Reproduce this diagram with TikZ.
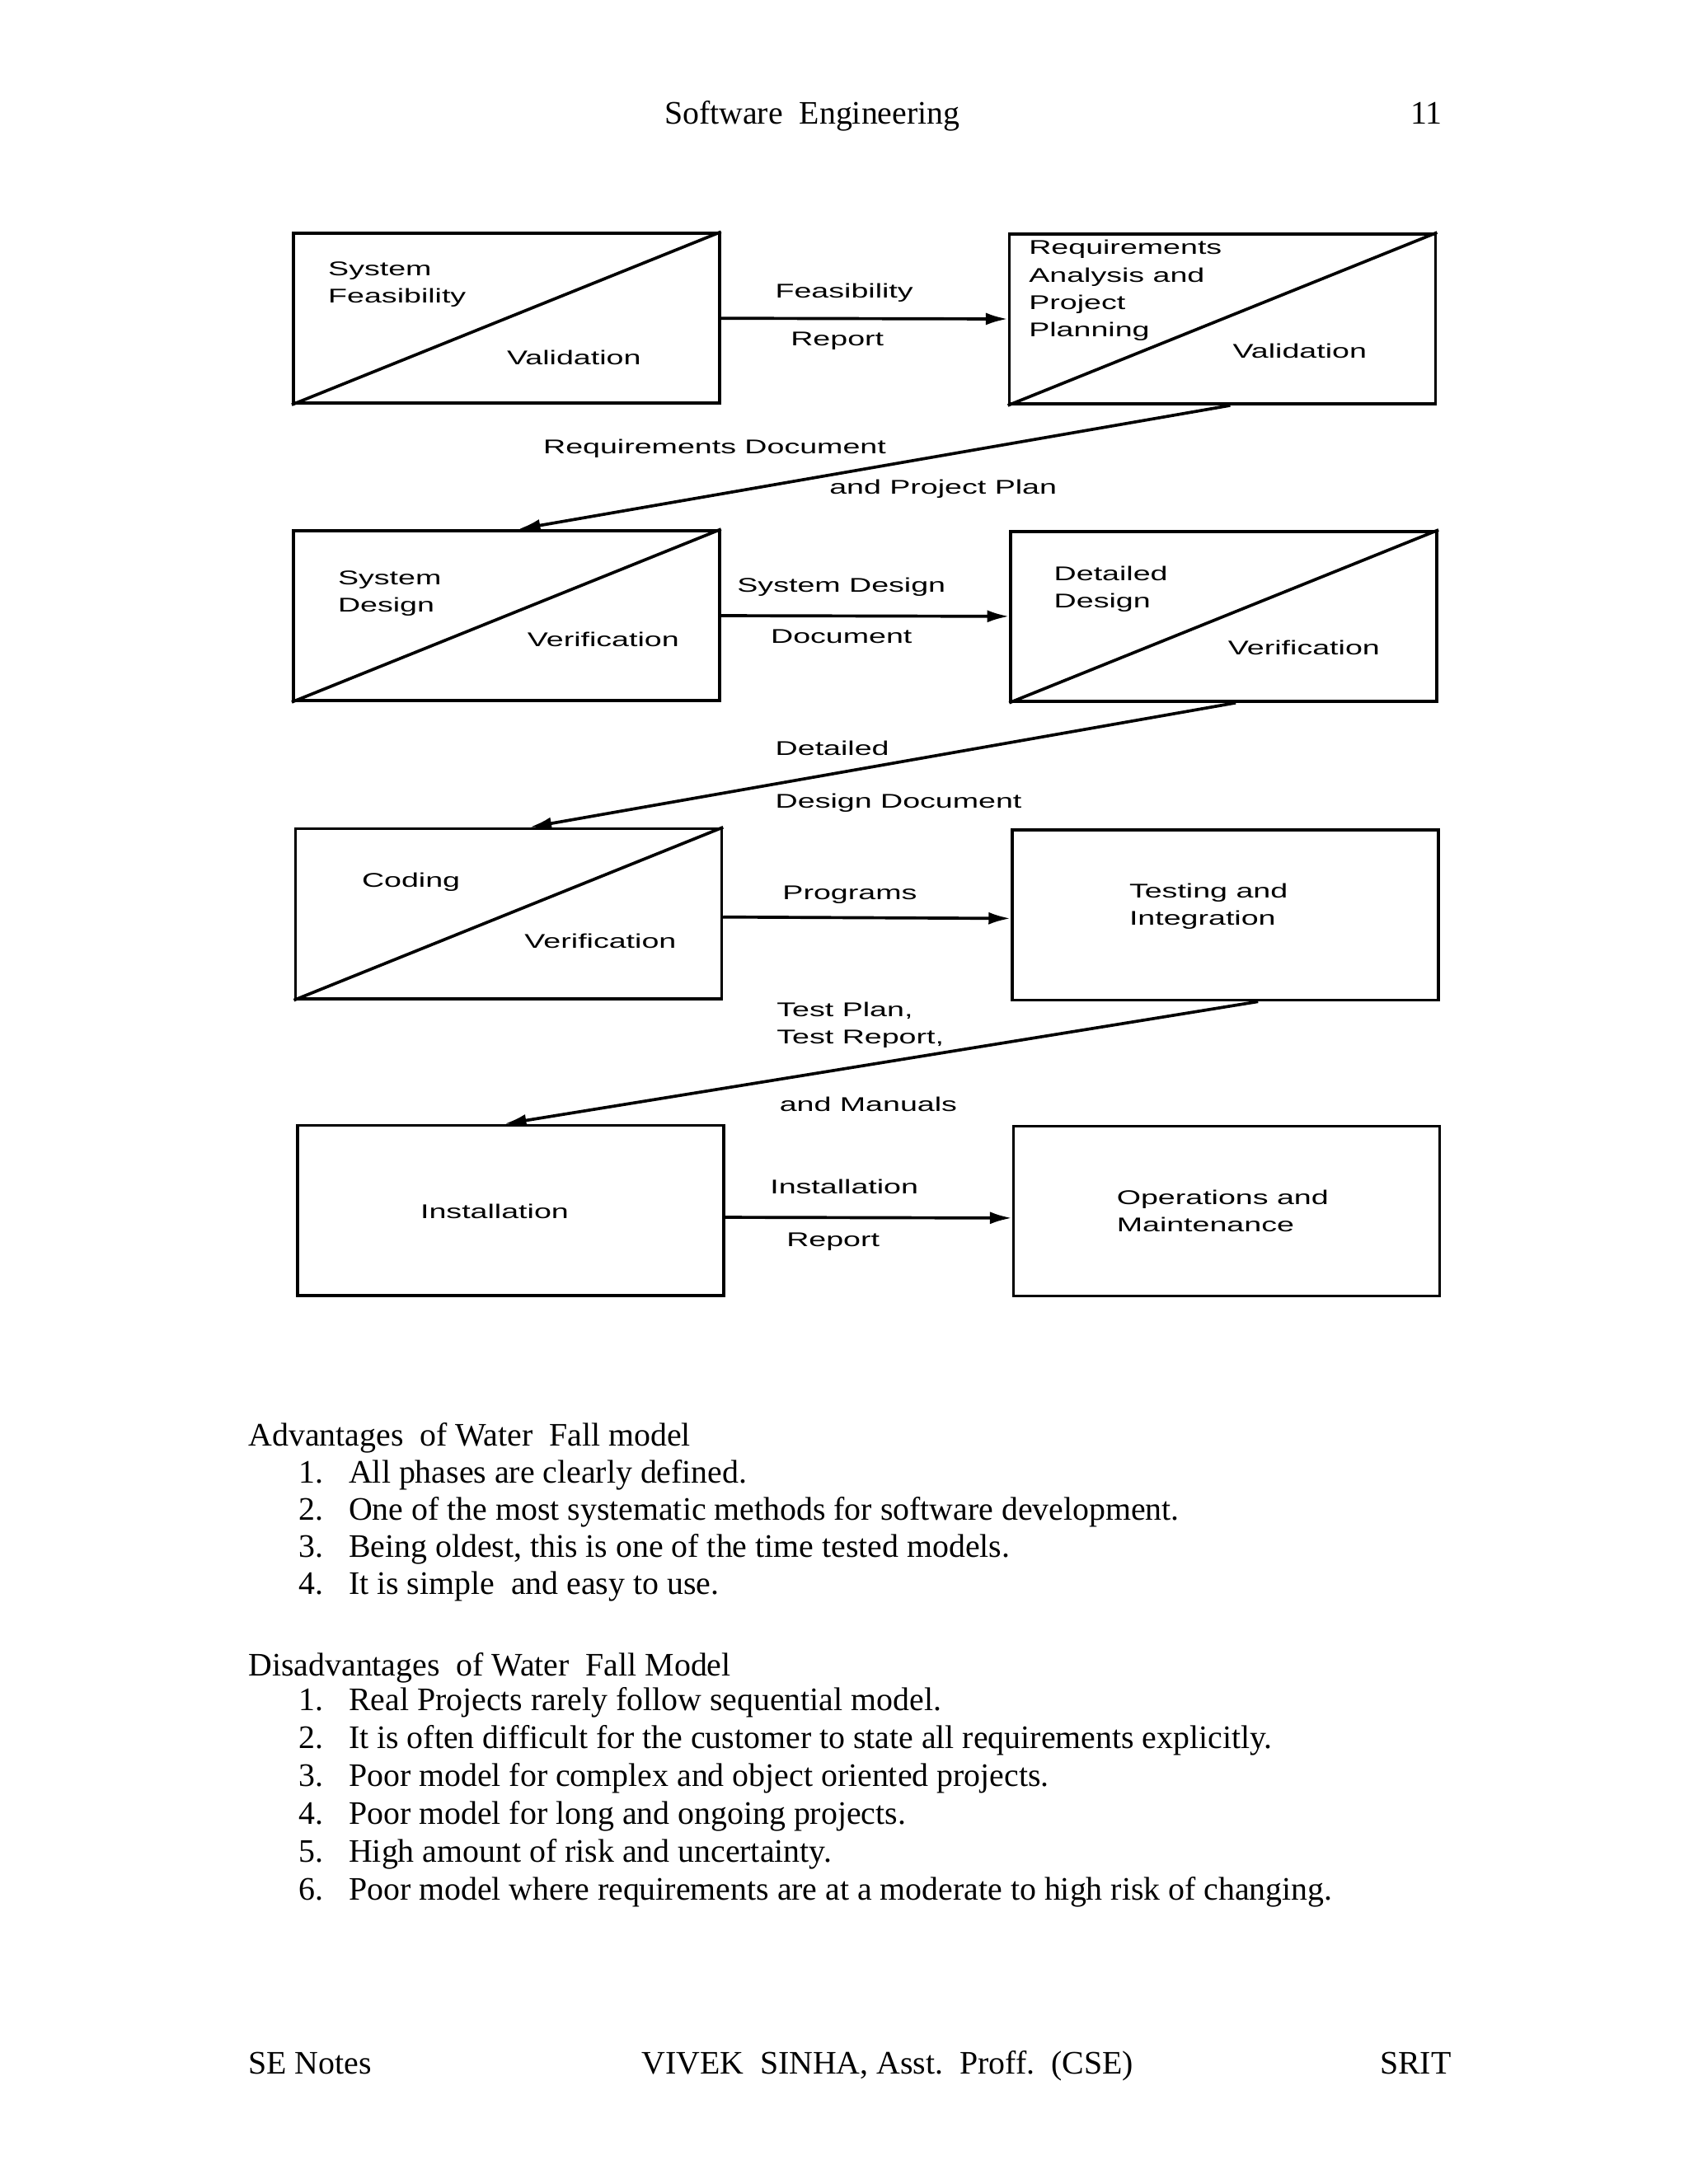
\documentclass[tikz,border=0pt]{standalone}
\usepackage{fontspec}
\setmainfont{Liberation Serif}
\setsansfont{Liberation Sans}
\usepackage{tikz}
\usetikzlibrary{arrows.meta}

\begin{document}
\begin{tikzpicture}[x=0.505pt, y=-0.505pt,
    phase/.style={draw, line width=1.1pt, minimum width=154.5pt, minimum height=61.6pt, inner sep=0pt},
    lbl/.style={font=\sffamily\fontsize{7.2}{9.9}\selectfont, xscale=1.56, inner sep=0pt, align=left},
    flow/.style={line width=1.1pt, -{Latex[length=8pt,width=4.5pt]}},
    split/.style={line width=1.1pt},
    body/.style={font=\fontsize{11.9}{14}\selectfont, inner sep=0pt, anchor=base west}]
  \useasboundingbox (0,0) rectangle (1212,1568);
  % Header
  \node[body, anchor=base] (title) at (583,89) {Software\ \ Engineering};
  \node[body] (pageno) at (1012,89) {11};
  % Phases
  \node[phase] (feas) at (363.5,228.5) {};
  \node[phase] (req) at (877.5,229) {};
  \node[phase] (sysdes) at (363.5,442) {};
  \node[phase] (detdes) at (878.5,442.5) {};
  \node[phase] (coding) at (365,656) {};
  \node[phase] (testing) at (879.5,657) {};
  \node[phase] (install) at (366.5,869) {};
  \node[phase] (ops) at (880.5,869.5) {};
  % Diagonals
  \draw[split] (feas.south west) -- (feas.north east);
  \draw[split] (req.south west) -- (req.north east);
  \draw[split] (sysdes.south west) -- (sysdes.north east);
  \draw[split] (detdes.south west) -- (detdes.north east);
  \draw[split] (coding.south west) -- (coding.north east);
  % Box texts
  \node[lbl, anchor=west] (feasname) at (235,204) {System\\Feasibility};
  \node[lbl, anchor=base] (feascheck) at (412,262) {Validation};
  \node[lbl, anchor=west] (reqname) at (738,208.5) {Requirements\\Analysis and\\Project\\Planning};
  \node[lbl, anchor=base] (reqcheck) at (933,257) {Validation};
  \node[lbl, anchor=west] (sysdesname) at (242,426) {System\\Design};
  \node[lbl, anchor=base] (sysdescheck) at (433,464) {Verification};
  \node[lbl, anchor=west] (detdesname) at (756,423) {Detailed\\Design};
  \node[lbl, anchor=base] (detdescheck) at (936,470) {Verification};
  \node[lbl, anchor=base] (codingname) at (295,637) {Coding};
  \node[lbl, anchor=base] (codingcheck) at (431,681) {Verification};
  \node[lbl, anchor=west] (testingname) at (810,650.5) {Testing and\\Integration};
  \node[lbl, anchor=base] (installname) at (355,875) {Installation};
  \node[lbl, anchor=west] (opsname) at (801,869.5) {Operations and\\Maintenance};
  % Flows
  \draw[flow] (feas.east) -- (req.west);
  \draw[flow] ([xshift=2.8pt]req.south) -- ([xshift=4.3pt]sysdes.north);
  \draw[flow] (sysdes.east) -- (detdes.west);
  \draw[flow] ([xshift=4.3pt]detdes.south) -- ([xshift=7.6pt]coding.north);
  \draw[flow] ([yshift=-1.2pt]coding.east) -- ([yshift=-1.2pt]testing.west);
  \draw[flow] ([xshift=11.9pt]testing.south) -- ([xshift=-2.3pt]install.north);
  \draw[flow] ([yshift=-2.5pt]install.east) -- ([yshift=-2.5pt]ops.west);
  % Flow texts
  \node[lbl, anchor=base] (feasout1) at (606,214) {Feasibility};
  \node[lbl, anchor=base] (feasout2) at (601,248) {Report};
  \node[lbl, anchor=base] (reqout1) at (513,326) {Requirements Document};
  \node[lbl, anchor=base] (reqout2) at (677,355) {and Project Plan};
  \node[lbl, anchor=base] (sysdesout1) at (604,425) {System Design};
  \node[lbl, anchor=base] (sysdesout2) at (604,462) {Document};
  \node[lbl, anchor=base west] (detdesout1) at (556,542) {Detailed};
  \node[lbl, anchor=base west] (detdesout2) at (556,580) {Design Document};
  \node[lbl, anchor=base] (codingout) at (610,646) {Programs};
  \node[lbl, anchor=west] (testingout1) at (557,736) {Test Plan,\\Test Report,};
  \node[lbl, anchor=base west] (testingout2) at (559,798) {and Manuals};
  \node[lbl, anchor=base] (installout1) at (606,857) {Installation};
  \node[lbl, anchor=base] (installout2) at (598,895) {Report};
  % Advantages
  \node[body] (advhead) at (178,1038) {Advantages\ \ of Water\ \ Fall model};
  \foreach \txt [count=\i] in {All phases are clearly defined.,
      One of the most systematic methods for software development.,
      {Being oldest, this is one of the time tested models.},
      It is simple\ \ and easy to use.}{
    \node[body] (advno\i) at (214,1038.5+26.5*\i) {\i.};
    \node[body] (adv\i) at (250,1038.5+26.5*\i) {\txt};
  }
  % Disadvantages
  \node[body] (dishead) at (178,1203) {Disadvantages\ \ of Water\ \ Fall Model};
  \foreach \txt [count=\i] in {Real Projects rarely follow sequential model.,
      It is often difficult for the customer to state all requirements explicitly.,
      Poor model for complex and object oriented projects.,
      Poor model for long and ongoing projects.,
      High amount of risk and uncertainty.,
      Poor model where requirements are at a moderate to high risk of changing.}{
    \node[body] (disno\i) at (214,1200.8+27.2*\i) {\i.};
    \node[body] (dis\i) at (250,1200.8+27.2*\i) {\txt};
  }
  % Footer
  \node[body] (notes) at (178,1489) {SE Notes};
  \node[body, anchor=base] (author) at (637,1489) {VIVEK\ \ SINHA, Asst.\ \ Proff.\ \ (CSE)};
  \node[body, anchor=base east] (college) at (1042,1489) {SRIT};
\end{tikzpicture}
\end{document}
